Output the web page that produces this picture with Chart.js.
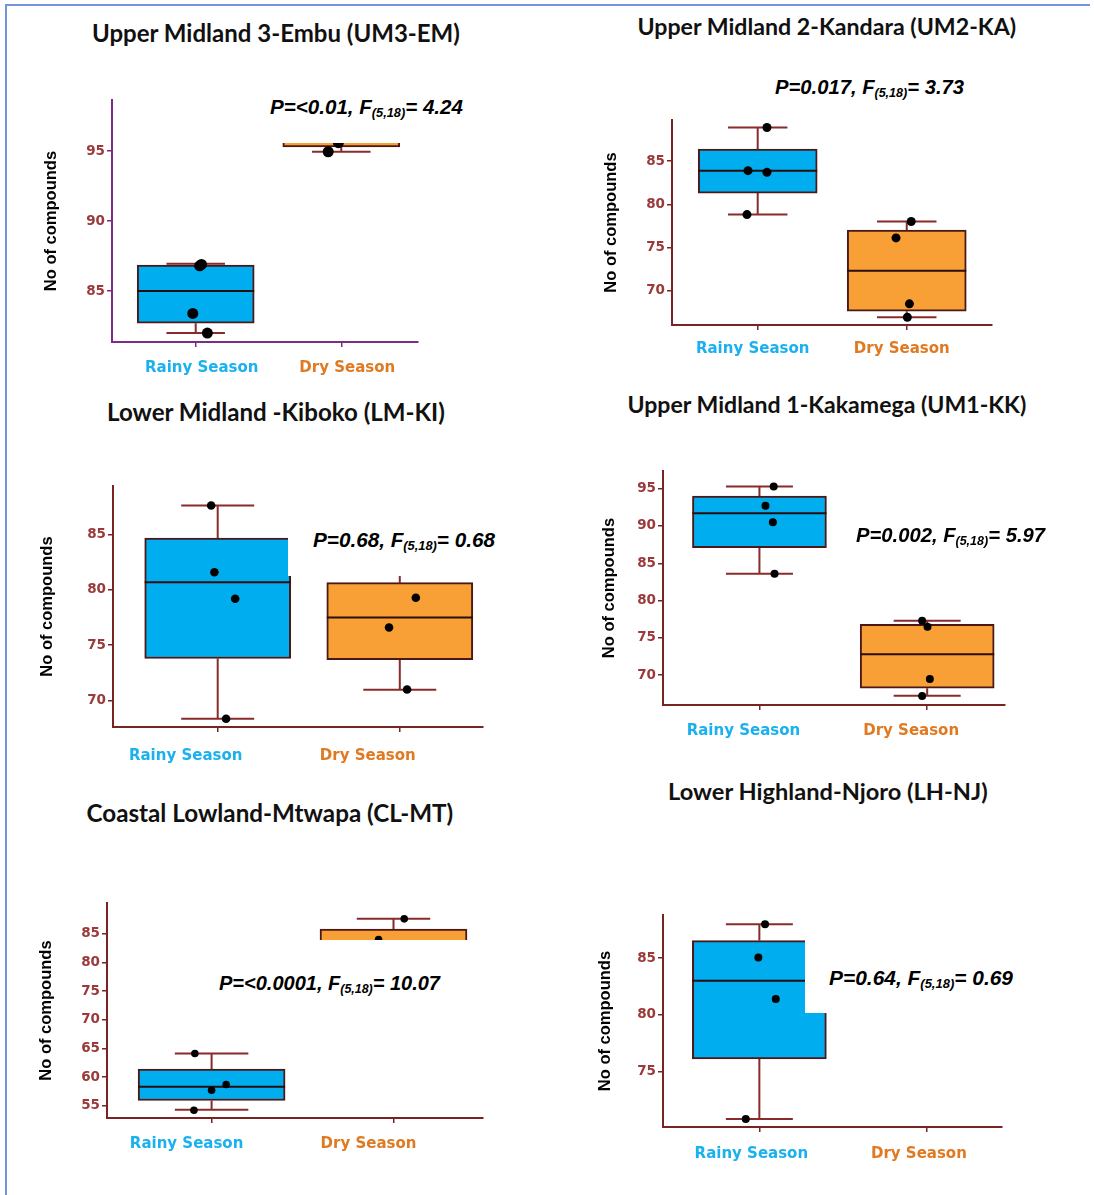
<!DOCTYPE html>
<html>
<head>
<meta charset="utf-8">
<script src="https://cdn.jsdelivr.net/npm/chart.js@4.4.1/dist/chart.umd.min.js"></script>
<style>
  body { margin: 0; background: #fff; }
  #page { position: relative; width: 1094px; height: 1195px; overflow: hidden; background: #fff; }
  .frameTop { position: absolute; left: 6px; top: 4px; width: 1084px; height: 2px; background: #7396da; }
  .frameLeft { position: absolute; left: 5px; top: 4px; width: 2px; height: 1191px; background: #7396da; }
  canvas { position: absolute; }
  .title { position: absolute; white-space: nowrap; line-height: 1; font-family: Lato, 'Open Sans', sans-serif; font-weight: 700; color: #111; z-index: 3; }
  .note { position: absolute; white-space: nowrap; line-height: 1; font-family: 'Liberation Sans', Arial, sans-serif; font-weight: 700; font-style: italic; color: #000; z-index: 3; transform-origin: 0 50%; }
  .note sub { font-size: 0.62em; vertical-align: -0.25em; }
  .cover { position: absolute; background: #fff; z-index: 2; }
</style>
</head>
<body>
<div id="page">
  <div class="frameTop"></div>
  <div class="frameLeft"></div>
</div>
<script>
// ---- data ----
const seasons = ['Rainy Season', 'Dry Season'];
const sites = ['Upper Midland 3-Embu (UM3-EM)', 'Upper Midland 2-Kandara (UM2-KA)',
  'Lower Midland -Kiboko (LM-KI)', 'Upper Midland 1-Kakamega (UM1-KK)',
  'Coastal Lowland-Mtwapa (CL-MT)', 'Lower Highland-Njoro (LH-NJ)'];
const pText = ['<0.01', '0.017', '0.68', '0.002', '<0.0001', '0.64'];
const fText = ['4.24', '3.73', '0.68', '5.97', '10.07', '0.69'];

// [lower whisker, Q1, median, Q3, upper whisker]
const rainyBoxes = [
  [82.0, 82.7, 85.0, 86.85, 86.95],
  [78.8, 81.3, 83.9, 86.4, 88.9],
  [68.35, 73.8, 80.7, 84.7, 87.65],
  [83.6, 87.1, 91.7, 94.0, 95.3],
  [54.3, 55.9, 58.3, 61.4, 64.1],
  [70.8, 76.1, 83.0, 86.55, 88.0]
];
const dryBoxes = [
  [94.95, 95.3, 96.3, 97.6, 98.2],
  [66.9, 67.6, 72.3, 77.0, 78.0],
  [70.96, 73.7, 77.5, 80.66, 84.0],
  [67.24, 68.24, 72.8, 76.83, 77.28],
  [78.0, 80.0, 82.5, 85.8, 87.6],
  null
];
const rainyPoints = [
  [86.8, 86.9, 83.4, 82.0],
  [88.9, 83.9, 83.7, 78.8],
  [87.65, 81.6, 79.2, 68.35],
  [95.3, 92.7, 90.5, 83.6],
  [64.1, 57.7, 58.7, 54.2],
  [88.0, 85.05, 81.4, 70.8]
];
const dryPoints = [
  [94.95, 95.6, 97.0, 98.0],
  [78.0, 76.1, 68.45, 66.9],
  [79.3, 76.6, 71.0, 84.0],
  [77.3, 76.5, 69.5, 67.2],
  [87.6, 84.0, 82.0, 79.5],
  []
];
const yTicks = [[85, 90, 95], [70, 75, 80, 85], [70, 75, 80, 85],
  [70, 75, 80, 85, 90, 95], [55, 60, 65, 70, 75, 80, 85], [75, 80, 85]];
const yMin = [81.36, 66.0, 67.6, 66.0, 52.85, 70.1];
const yMax = [98.64, 89.76, 89.4, 97.36, 90.35, 88.8];

// ---- layout / style ----
const rainyJit = [[0.027, 0.04, -0.02, 0.08], [0.062, -0.065, 0.062, -0.072],
  [-0.036, -0.018, 0.096, 0.046], [0.085, 0.036, 0.08, 0.09],
  [-0.092, 0, 0.08, -0.097], [0.034, -0.006, 0.098, -0.081]];
const dryJit = [[-0.09, -0.02, 0.05, -0.03], [0.03, -0.072, 0.018, 0.004],
  [0.088, -0.059, 0.04, 0], [-0.03, 0.002, 0.016, -0.03],
  [0.059, -0.082, 0.03, -0.04], []];

const layout = [
  { axisX: 112, top: 100, right: 418, bottom: 342, xMax: 1.527, barW: 117, lblOff: 6, lblPad: 12, titlePad: 10, dot: 5.5, axis: '#7a2c86',
    title: [276, 34, 368], note: [270, 463, 107], cover: [268, 60, 224, 83] },
  { axisX: 672, top: 120, right: 992, bottom: 325, xMax: 1.572, barW: 119, lblOff: -5, lblPad: 10, titlePad: 10, dot: 4.5, axis: '#7a2323',
    title: [827, 27, 379], note: [775, 964, 87], cover: null },
  { axisX: 113, top: 486, right: 483, bottom: 727, xMax: 1.457, barW: 146, lblOff: -32, lblPad: 15, titlePad: 5, dot: 4.3, axis: '#7a2323',
    title: [276, 413, 338], note: [313, 495, 540], cover: [288, 500, 217, 76] },
  { axisX: 663, top: 471, right: 1005, bottom: 705, xMax: 1.464, barW: 134, lblOff: -16, lblPad: 12, titlePad: 17, dot: 4, axis: '#7a2323',
    title: [827, 405, 399], note: [856, 1045, 535], cover: null },
  { axisX: 107, top: 903, right: 483, bottom: 1118, xMax: 1.492, barW: 147, lblOff: -25, lblPad: 12, titlePad: 10, dot: 3.8, axis: '#7a2323',
    title: [270, 814, 367], note: [219, 440, 983], cover: [215, 940, 263, 64] },
  { axisX: 663, top: 915, right: 1002, bottom: 1127, xMax: 1.448, barW: 134, lblOff: -8, lblPad: 13, titlePad: 13, dot: 4, axis: '#7a2323',
    title: [828, 793, 320], note: [829, 1013, 978], cover: [805, 920, 225, 93] }
];

const fillColors = ['#00adef', '#f8a035'];
const labelColors = ['#1bb0ee', '#e07a22'];
const Y_W = 80, X_H = 45, PAD_T = 10, PAD_R = 10;

const page = document.getElementById('page');

function fitText(el, targetW) {
  el.style.fontSize = '20px';
  const w = el.getBoundingClientRect().width;
  const size = 20 * targetW / w;
  el.style.fontSize = size + 'px';
  return size;
}

// whiskers behind the boxes, medians on top of them
const boxWhisker = {
  id: 'boxWhisker',
  beforeDatasetDraw(chart, args) {
    const ds = chart.data.datasets[args.index];
    if (!ds.summary) return;
    const y = chart.scales.y, ctx = chart.ctx;
    ctx.save();
    ctx.strokeStyle = '#8a2b2b';
    ctx.lineWidth = 2;
    args.meta.data.forEach((el, i) => {
      const s = ds.summary[i];
      const half = el.width / 2;
      [[s[0], s[1]], [s[4], s[3]]].forEach(([w, q]) => {
        ctx.beginPath();
        ctx.moveTo(el.x, y.getPixelForValue(q));
        ctx.lineTo(el.x, y.getPixelForValue(w));
        ctx.moveTo(el.x - half / 2, y.getPixelForValue(w));
        ctx.lineTo(el.x + half / 2, y.getPixelForValue(w));
        ctx.stroke();
      });
    });
    ctx.restore();
  },
  afterDatasetDraw(chart, args) {
    const ds = chart.data.datasets[args.index];
    if (!ds.summary) return;
    const y = chart.scales.y, ctx = chart.ctx;
    ctx.save();
    ctx.strokeStyle = '#2a0d0d';
    ctx.lineWidth = 2;
    args.meta.data.forEach((el, i) => {
      const my = y.getPixelForValue(ds.summary[i][2]);
      ctx.beginPath();
      ctx.moveTo(el.x - el.width / 2, my);
      ctx.lineTo(el.x + el.width / 2, my);
      ctx.stroke();
    });
    ctx.restore();
  }
};

layout.forEach((L, k) => {
  // title
  const t = document.createElement('div');
  t.className = 'title';
  t.textContent = sites[k];
  page.appendChild(t);
  const ts = fitText(t, L.title[2]);
  t.style.left = (L.title[0] - L.title[2] / 2) + 'px';
  t.style.top = (L.title[1] - ts * 0.53) + 'px';

  // white patch over part of the plot, as in the figure
  if (L.cover) {
    const c = document.createElement('div');
    c.className = 'cover';
    c.style.left = L.cover[0] + 'px';
    c.style.top = L.cover[1] + 'px';
    c.style.width = L.cover[2] + 'px';
    c.style.height = L.cover[3] + 'px';
    page.appendChild(c);
  }

  // statistics note: tall condensed look, squeezed to the measured width
  const n = document.createElement('div');
  n.className = 'note';
  n.innerHTML = 'P=' + pText[k].replace('<', '&lt;') + ', F<sub>(5,18)</sub>= ' + fText[k];
  n.style.fontSize = '20px';
  page.appendChild(n);
  const nw = n.getBoundingClientRect().width;
  n.style.transform = 'scaleX(' + ((L.note[1] - L.note[0]) / nw) + ')';
  n.style.left = L.note[0] + 'px';
  n.style.top = (L.note[2] - 10) + 'px';

  // chart
  const cv = document.createElement('canvas');
  const w = (L.right - L.axisX) + Y_W + PAD_R;
  const h = (L.bottom - L.top) + PAD_T + X_H;
  cv.width = w; cv.height = h;
  cv.style.left = (L.axisX - Y_W) + 'px';
  cv.style.top = (L.top - PAD_T) + 'px';
  cv.style.width = w + 'px'; cv.style.height = h + 'px';
  page.appendChild(cv);

  const boxes = [rainyBoxes[k], dryBoxes[k]];
  const barData = [], summary = [], colors = [];
  boxes.forEach((b, i) => {
    if (!b) return;
    barData.push({ x: i, y: [b[1], b[3]] });
    summary.push(b);
    colors.push(fillColors[i]);
  });
  const pts = rainyPoints[k].map((v, i) => ({ x: rainyJit[k][i], y: v }))
    .concat(dryPoints[k].map((v, i) => ({ x: 1 + dryJit[k][i], y: v })));

  new Chart(cv, {
    type: 'bar',
    data: {
      datasets: [
        { type: 'scatter', data: pts, pointRadius: L.dot, pointBackgroundColor: '#000', pointBorderWidth: 0 },
        { data: barData, summary: summary, backgroundColor: colors, borderColor: '#4a1818', borderWidth: 2,
          borderSkipped: false, barThickness: L.barW }
      ]
    },
    options: {
      responsive: false,
      animation: false,
      events: [],
      devicePixelRatio: 1,
      layout: { padding: { top: PAD_T, right: PAD_R, left: 0, bottom: 0 } },
      plugins: { legend: { display: false }, tooltip: { enabled: false } },
      scales: {
        x: {
          type: 'linear', min: -0.575, max: L.xMax, offset: false,
          afterBuildTicks: s => { s.ticks = seasons.map((_, i) => ({ value: i })); },
          afterFit: s => { s.height = X_H; },
          ticks: {
            callback: v => seasons[v],
            color: c => labelColors[c.index],
            font: { family: 'DejaVu Sans', weight: 'bold', size: 15 },
            labelOffset: L.lblOff, padding: L.lblPad, maxRotation: 0, autoSkip: false
          },
          grid: { offset: false, drawOnChartArea: false, drawTicks: true, tickLength: 5, color: L.axis, lineWidth: 1.5 },
          border: { color: L.axis, width: 2 }
        },
        y: {
          min: yMin[k], max: yMax[k],
          afterBuildTicks: s => { s.ticks = yTicks[k].map(v => ({ value: v })); },
          afterFit: s => { s.width = Y_W; },
          ticks: { color: '#9b3a3a', font: { family: 'DejaVu Sans', weight: 'bold', size: 13.5 }, padding: 2 },
          grid: { drawOnChartArea: false, drawTicks: true, tickLength: 5, color: L.axis, lineWidth: 1.5 },
          border: { color: L.axis, width: 2 },
          title: {
            display: true, text: 'No of compounds', color: '#000',
            font: { family: 'Liberation Sans', weight: 'bold', size: 16.5 },
            padding: { top: L.titlePad, bottom: 0 }
          }
        }
      }
    },
    plugins: [boxWhisker]
  });
});
</script>
</body>
</html>
